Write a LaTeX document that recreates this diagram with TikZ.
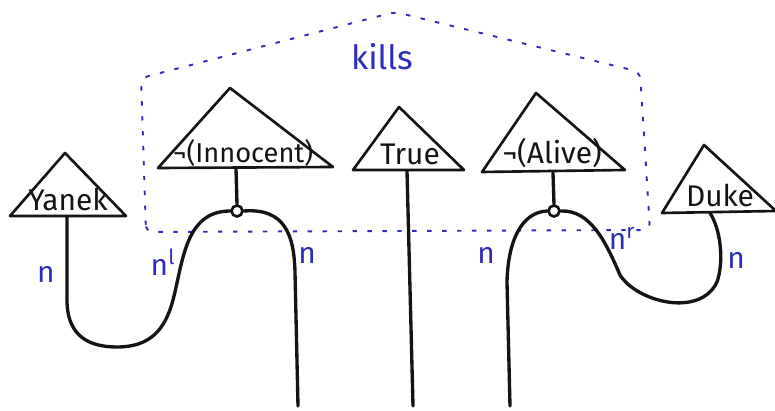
\documentclass[tikz,border=0pt]{standalone}
\usepackage{fontspec}
\setsansfont{Fira Sans}
\begin{document}
\begin{tikzpicture}[x=0.02cm, y=-0.02cm]
    % Define colors
    \definecolor{inkcolor}{RGB}{20, 20, 20}
    \definecolor{boxcolor}{RGB}{45, 45, 185}

    \tikzset{
        tri/.style={line width=1.5pt, inkcolor, line join=round},
        wire/.style={line width=1.9pt, inkcolor, line cap=round},
        word/.style={font=\sffamily\fontsize{17}{19}\selectfont, inkcolor, inner sep=0pt},
        typelbl/.style={font=\sffamily\fontsize{17}{19}\selectfont, boxcolor, inner sep=0pt},
        cup/.style={circle, draw=inkcolor, line width=1.5pt, fill=white, minimum size=0.22cm, inner sep=0pt}
    }

    \useasboundingbox (0,0) rectangle (775,411);

    % Dotted outline of the verb box
    \draw[boxcolor, line width=1.1pt, dash pattern=on 2.5pt off 6pt, rounded corners=4pt]
        (146,232) -- (141,78) -- (395,12) -- (640,72) -- (650,230) -- cycle;
    \node[typelbl, font=\sffamily\fontsize{19}{21}\selectfont] (kills) at (382,57) {kills};

    % Corner points of the triangles
    \coordinate (yanekTop) at (65,153);
    \coordinate (yanekL) at (10,216);
    \coordinate (yanekR) at (126,216);

    \coordinate (innoTop) at (230,88);
    \coordinate (innoL) at (158,168);
    \coordinate (innoR) at (333,167);

    \coordinate (trueTop) at (399,107);
    \coordinate (trueL) at (353,170);
    \coordinate (trueR) at (464,170);

    \coordinate (aliveTop) at (536,93);
    \coordinate (aliveL) at (482,172);
    \coordinate (aliveR) at (625,170);

    \coordinate (dukeTop) at (704,145);
    \coordinate (dukeL) at (662,213);
    \coordinate (dukeR) at (776,211);

    % Draw the triangles
    \draw[tri] (yanekL) -- (yanekTop) -- (yanekR) -- cycle;
    \draw[tri] (innoL) -- (innoTop) -- (innoR) -- cycle;
    \draw[tri] (trueL) -- (trueTop) -- (trueR) -- cycle;
    \draw[tri] (aliveL) -- (aliveTop) -- (aliveR) -- cycle;
    \draw[tri] (dukeL) -- (dukeTop) -- (dukeR) -- cycle;

    % Words inside the triangles
    \node[word] (yanek) at (68,199) {Yanek};
    \node[word, font=\sffamily\fontsize{15.5}{17}\selectfont] (innocent) at (243,153) {¬(Innocent)};
    \node[word] (true) at (410,154) {True};
    \node[word] (alive) at (552,153) {¬(Alive)};
    \node[word] (duke) at (720,195) {Duke};

    % Wire ends on the triangle bases
    \coordinate (yanekOut) at (67,217);
    \coordinate (innoOut) at (236,169);
    \coordinate (trueOut) at (407,171);
    \coordinate (aliveOut) at (553,173);
    \coordinate (dukeOut) at (710,213);

    % Loose ends at the bottom
    \coordinate (endA) at (298,406);
    \coordinate (endB) at (413,406);
    \coordinate (endC) at (510,406);

    % The two cups
    \node[cup] (cupI) at (237,211) {};
    \node[cup] (cupA) at (554,211) {};

    % Wires
    \draw[wire] (innoOut) -- (cupI.north);
    \draw[wire] (aliveOut) -- (cupA.north);
    \draw[wire] (trueOut) -- (endB);

    \draw[wire] (yanekOut) -- (67,300)
        .. controls (67,337) and (90,347) .. (117,347)
        .. controls (150,347) and (165,330) .. (173,300)
        .. controls (183,262) and (185,211) .. (cupI.west);
    \draw[wire] (cupI.east) .. controls (285,208) and (294,235) .. (295,272) -- (endA);

    \draw[wire] (cupA.west) .. controls (522,212) and (508,240) .. (507,282) -- (endC);
    \draw[wire] (cupA.east) .. controls (590,210) and (605,240) .. (620,275)
        .. controls (637,302) and (700,318) .. (717,282)
        .. controls (724,262) and (721,230) .. (dukeOut);

    % Type labels on the wires
    \node[typelbl] (nYanek) at (46,274) {n};
    \node[typelbl] (nlInno) at (163,262) {n\textsuperscript{l}};
    \node[typelbl] (nInno) at (307,255) {n};
    \node[typelbl] (nAlive) at (486,255) {n};
    \node[typelbl] (nrAlive) at (622,238) {n\textsuperscript{r}};
    \node[typelbl] (nDuke) at (736,260) {n};

\end{tikzpicture}
\end{document}
